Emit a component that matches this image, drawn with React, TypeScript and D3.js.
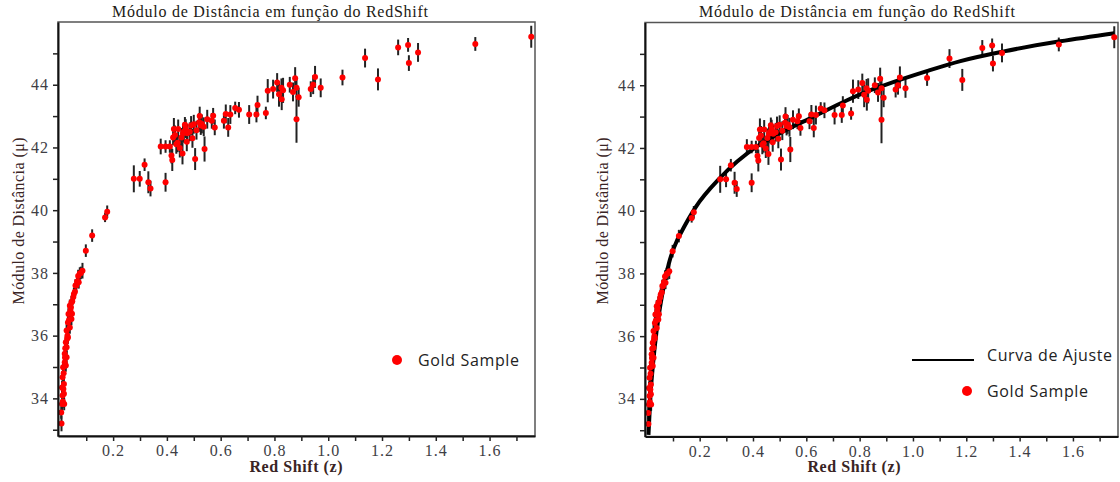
import React, { useRef, useEffect } from "react";
import * as d3 from "d3";

// gold sample (z, distance modulus, error)
const redshift = [
  0.008, 0.007, 0.010, 0.018, 0.012, 0.017, 0.010, 0.017, 0.012, 0.014,
  0.024, 0.020, 0.027, 0.020, 0.027, 0.024, 0.032, 0.027, 0.039, 0.032,
  0.045, 0.034, 0.041, 0.039, 0.045, 0.052, 0.054, 0.063, 0.066, 0.070,
  0.076, 0.086, 0.0985, 0.122, 0.015, 0.022, 0.030, 0.036, 0.043, 0.048,
  0.058, 0.060, 0.072, 0.080, 0.013, 0.016, 0.021, 0.029, 0.047,
  0.170, 0.178, 0.277, 0.299, 0.317, 0.331, 0.339, 0.395, 0.377, 0.395,
  0.411, 0.417, 0.420, 0.423, 0.426, 0.435, 0.442, 0.448, 0.454, 0.458,
  0.463, 0.467, 0.474, 0.476, 0.485, 0.495, 0.505, 0.500, 0.520, 0.522,
  0.526, 0.537, 0.540, 0.567, 0.572, 0.578, 0.612, 0.619, 0.628, 0.636,
  0.654, 0.668, 0.706, 0.733, 0.737, 0.768, 0.775, 0.795, 0.810, 0.817,
  0.826, 0.827, 0.832, 0.857, 0.869, 0.877, 0.882, 0.882, 0.890, 0.935,
  0.944, 0.951, 0.972, 1.053, 1.137, 1.185, 1.260, 1.297, 1.300, 1.334,
  1.547, 1.755, 0.430, 0.460, 0.470, 0.490, 0.510, 0.530, 0.440, 0.550
];
const distMod = [
  33.20, 33.55, 33.82, 33.82, 34.09, 34.15, 34.35, 34.46, 34.67, 34.99,
  35.05, 35.15, 35.31, 35.42, 35.63, 35.79, 35.94, 36.16, 36.26, 36.42,
  36.53, 36.69, 36.80, 36.95, 37.06, 37.23, 37.33, 37.60, 37.73, 37.90,
  37.98, 38.07, 38.71, 39.19, 34.30, 35.60, 36.00, 36.50, 36.90, 37.10,
  37.40, 37.60, 37.70, 38.00, 33.90, 34.80, 35.30, 35.90, 36.70,
  39.77, 39.95, 41.00, 41.00, 41.45, 40.89, 40.69, 40.89, 42.03, 42.03,
  42.03, 41.74, 41.60, 42.32, 42.59, 42.10, 42.59, 41.98, 42.32, 41.81,
  42.50, 42.72, 42.18, 42.45, 42.50, 42.29, 41.63, 42.74, 42.80, 43.00,
  42.70, 42.66, 41.95, 42.85, 43.01, 42.64, 42.85, 43.07, 42.64, 43.05,
  43.26, 43.20, 43.05, 43.05, 43.35, 43.10, 43.81, 43.86, 44.07, 43.70,
  43.90, 43.54, 43.82, 44.00, 43.77, 44.21, 43.90, 42.90, 43.60, 43.86,
  44.00, 44.25, 43.90, 44.23, 44.85, 44.17, 45.19, 45.27, 44.69, 45.03,
  45.30, 45.53, 42.40, 42.45, 42.60, 42.70, 42.55, 42.75, 42.15, 42.90
];
const distErr = [
  0.25, 0.20, 0.20, 0.20, 0.20, 0.20, 0.20, 0.20, 0.20, 0.20,
  0.20, 0.20, 0.20, 0.20, 0.20, 0.20, 0.20, 0.20, 0.20, 0.20,
  0.20, 0.20, 0.20, 0.20, 0.20, 0.20, 0.20, 0.20, 0.20, 0.20,
  0.20, 0.25, 0.20, 0.20, 0.20, 0.20, 0.20, 0.20, 0.20, 0.20,
  0.20, 0.20, 0.20, 0.20, 0.20, 0.20, 0.20, 0.20, 0.20,
  0.15, 0.20, 0.43, 0.25, 0.20, 0.35, 0.25, 0.30, 0.25, 0.20,
  0.20, 0.25, 0.35, 0.25, 0.35, 0.30, 0.30, 0.30, 0.30, 0.35,
  0.30, 0.25, 0.30, 0.30, 0.30, 0.30, 0.35, 0.30, 0.30, 0.30,
  0.30, 0.30, 0.40, 0.25, 0.25, 0.25, 0.25, 0.30, 0.30, 0.30,
  0.20, 0.25, 0.30, 0.25, 0.30, 0.20, 0.37, 0.30, 0.30, 0.40,
  0.30, 0.35, 0.40, 0.25, 0.30, 0.35, 0.30, 0.75, 0.30, 0.25,
  0.30, 0.35, 0.30, 0.25, 0.30, 0.35, 0.25, 0.22, 0.25, 0.30,
  0.22, 0.35, 0.30, 0.30, 0.30, 0.30, 0.30, 0.30, 0.30, 0.30
];

// fitted curve
const fitZ = [
  0.008, 0.015, 0.025, 0.0375, 0.059, 0.084, 0.115, 0.127, 0.184, 0.277,
  0.415, 0.503, 0.628, 0.753, 0.853, 0.889, 1.052, 1.178, 1.341, 1.552, 1.755
];
const fitMu = [
  32.85, 34.05, 35.10, 36.10, 37.30, 38.30, 39.05, 39.25, 40.10, 41.05,
  42.05, 42.48, 43.00, 43.52, 43.88, 43.99, 44.45, 44.77, 45.08, 45.40, 45.66
];

const yTicks = [34, 36, 38, 40, 42, 44];
const yMinor = [33, 35, 37, 39, 41, 43, 45];
const xTicks = [0.2, 0.4, 0.6, 0.8, 1.0, 1.2, 1.4, 1.6];
const xMinor = [0.1, 0.3, 0.5, 0.7, 0.9, 1.1, 1.3, 1.5, 1.7];

const chartTitle = "Módulo de Distância em função do RedShift";
const yTitle = "Módulo de Distância (μ)";
const xTitle = "Red Shift (z)";
const fitLabel = "Curva de Ajuste";
const sampleLabel = "Gold Sample";

const serif = "'Times New Roman', 'Liberation Serif', serif";
const sans = "'Open Sans', Lato, sans-serif";

function drawPanel(svg: any, p: any) {
  const x = d3.scaleLinear().domain([-0.005, 1.769]).range([p.x0, p.x1]);
  const y = d3.scaleLinear().domain([32.8, 46.0]).range([p.y1, p.y0]);
  const idx = d3.range(redshift.length);
  const g = svg.append("g");

  // top / right frame
  g.append("rect")
    .attr("x", p.x0)
    .attr("y", p.y0)
    .attr("width", p.x1 - p.x0)
    .attr("height", p.y1 - p.y0)
    .attr("fill", "none")
    .attr("stroke", "#555")
    .attr("stroke-width", 1.5);

  g.selectAll(".err")
    .data(idx)
    .join("line")
    .attr("x1", (i: number) => x(redshift[i]))
    .attr("x2", (i: number) => x(redshift[i]))
    .attr("y1", (i: number) => y(distMod[i] - distErr[i]))
    .attr("y2", (i: number) => y(distMod[i] + distErr[i]))
    .attr("stroke", "#222")
    .attr("stroke-width", 2);

  if (p.fit) {
    const fitLine = d3
      .line<number>()
      .x(i => x(fitZ[i]))
      .y(i => y(fitMu[i]))
      .curve(d3.curveMonotoneX);
    g.append("path")
      .datum(d3.range(fitZ.length))
      .attr("d", fitLine)
      .attr("fill", "none")
      .attr("stroke", "#000")
      .attr("stroke-width", 4);
  }

  g.selectAll(".pt")
    .data(idx)
    .join("circle")
    .attr("cx", (i: number) => x(redshift[i]))
    .attr("cy", (i: number) => y(distMod[i]))
    .attr("r", 3)
    .attr("fill", "#ff0000");

  const yAxis = d3
    .axisLeft(y)
    .tickValues([...yTicks, ...yMinor])
    .tickFormat((d: any) => (yTicks.includes(+d) ? String(d) : ""))
    .tickSize(5)
    .tickSizeOuter(0)
    .tickPadding(4);
  const xAxis = d3
    .axisBottom(x)
    .tickValues([...xTicks, ...xMinor])
    .tickFormat((d: any) => (xTicks.includes(+d) ? d3.format(".1f")(+d) : ""))
    .tickSize(5)
    .tickSizeOuter(0)
    .tickPadding(4);

  const ya = g.append("g").attr("transform", `translate(${p.x0},0)`).call(yAxis);
  const xa = g.append("g").attr("transform", `translate(0,${p.y1})`).call(xAxis);
  [ya, xa].forEach(a => {
    a.attr("font-family", null).attr("font-size", null);
    a.select(".domain").attr("stroke", "#111").attr("stroke-width", 2);
    a.selectAll(".tick line").attr("stroke", "#222").attr("stroke-width", 1.5);
    a.selectAll(".tick text")
      .attr("fill", "#3e3e44")
      .style("font-family", serif)
      .style("font-size", "16px")
      .style("letter-spacing", "1px");
  });

  g.append("text")
    .attr("x", p.titleX)
    .attr("y", 17)
    .attr("text-anchor", "middle")
    .attr("textLength", 316)
    .style("font-family", serif)
    .style("font-size", "16px")
    .attr("fill", "#221a14")
    .text(chartTitle);

  g.append("text")
    .attr("transform", `translate(${p.yTitleX},221) rotate(-90)`)
    .attr("text-anchor", "middle")
    .attr("textLength", 167)
    .style("font-family", serif)
    .style("font-size", "16px")
    .attr("fill", "#3a2424")
    .text(yTitle);

  g.append("text")
    .attr("x", p.xTitleX)
    .attr("y", 472)
    .attr("text-anchor", "middle")
    .attr("textLength", 93)
    .style("font-family", serif)
    .style("font-size", "16px")
    .style("font-weight", "bold")
    .attr("fill", "#3a2424")
    .text(xTitle);

  // legend
  p.legend.forEach((l: any) => {
    if (l.kind === "line") {
      g.append("line")
        .attr("x1", l.mx - 31)
        .attr("x2", l.mx + 31)
        .attr("y1", l.y + 5)
        .attr("y2", l.y + 5)
        .attr("stroke", "#000")
        .attr("stroke-width", 2);
    } else {
      g.append("circle").attr("cx", l.mx).attr("cy", l.y).attr("r", 5).attr("fill", "#ff0000");
    }
    g.append("text")
      .attr("x", l.tx)
      .attr("y", l.y + 5.5)
      .attr("textLength", l.w)
      .style("font-family", sans)
      .style("font-size", "16px")
      .attr("fill", "#222")
      .text(l.label);
  });
}

const App = () => {
  const svgRef = useRef<SVGSVGElement>(null);
  useEffect(() => {
    const svg = d3.select(svgRef.current);
    svg.selectAll("*").remove();
    drawPanel(svg, {
      x0: 58, x1: 535, y0: 22, y1: 436, fit: false,
      titleX: 270, yTitleX: 24, xTitleX: 296,
      legend: [{ kind: "dot", mx: 397, tx: 418, y: 360, w: 101, label: sampleLabel }]
    });
    drawPanel(svg, {
      x0: 645, x1: 1118, y0: 22.5, y1: 436.5, fit: true,
      titleX: 857, yTitleX: 608, xTitleX: 854,
      legend: [
        { kind: "line", mx: 943, tx: 987, y: 355, w: 125, label: fitLabel },
        { kind: "dot", mx: 967, tx: 987, y: 391, w: 101, label: sampleLabel }
      ]
    });
  }, []);

  return (
    <svg
      ref={svgRef}
      width={1120}
      height={482}
      style={{ position: "absolute", left: 0, top: 0, background: "#fff" }}
    />
  );
};

export default App;
